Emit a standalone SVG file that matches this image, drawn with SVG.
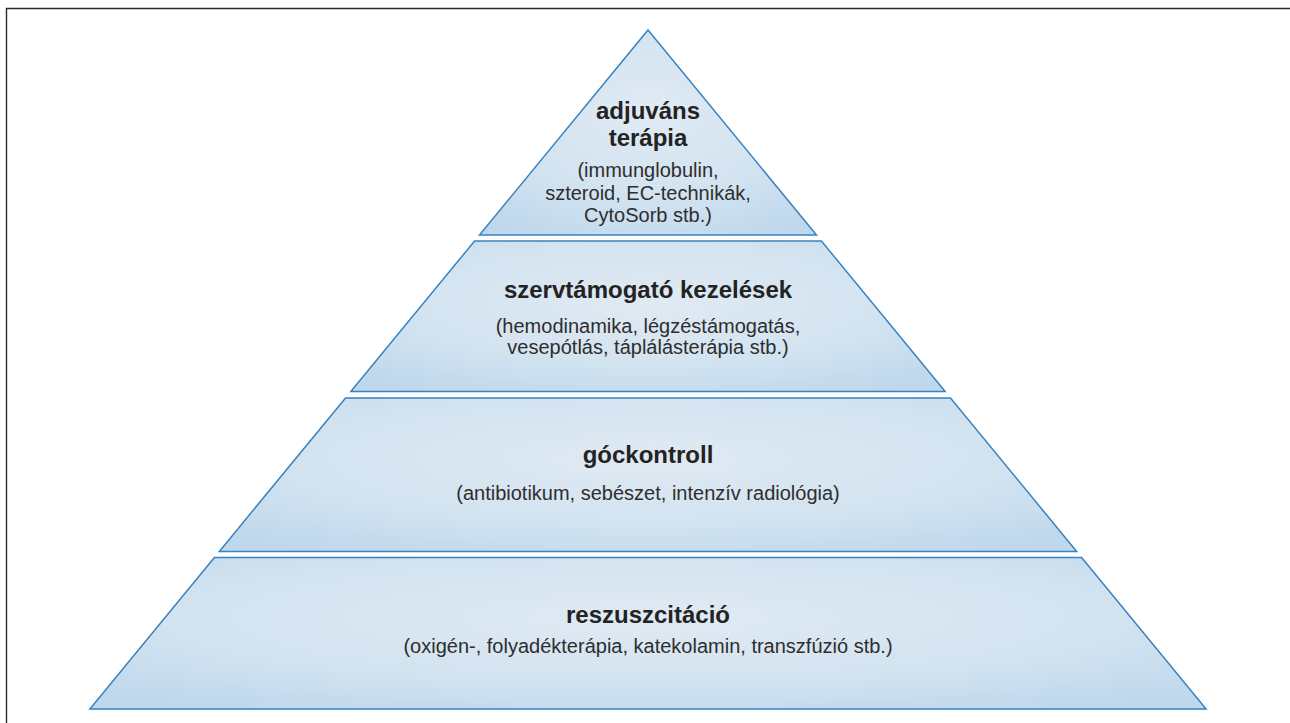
<svg xmlns="http://www.w3.org/2000/svg" width="1290" height="723" viewBox="0 0 1290 723">
  <defs>
    <radialGradient id="fillGrad" cx="0.5" cy="0.4" r="0.7">
      <stop offset="0" stop-color="#e0eaf3"/>
      <stop offset="0.6" stop-color="#d2e3f0"/>
      <stop offset="1" stop-color="#bfd8ed"/>
    </radialGradient>
  </defs>
  <style>
    .layer { fill: url(#fillGrad); stroke: #3a82bf; stroke-width: 1.5; stroke-linejoin: miter; }
    .title { font-family: "Liberation Sans", Arial, sans-serif; font-weight: bold; font-size: 24px; fill: #232323; text-anchor: middle; }
    .sub { font-family: "Liberation Sans", Arial, sans-serif; font-size: 20px; fill: #2e2e2e; text-anchor: middle; }
    .frame { fill: none; stroke: #2b2b2b; stroke-width: 1.4; }
  </style>
  <rect x="0" y="0" width="1290" height="723" fill="#ffffff"/>
  <path class="frame" d="M6.5,723 L6.5,8.5 L1290,8.5"/>

  <g id="layer-adjuvans">
    <polygon class="layer" points="648,30 816.5,235 479.5,235"/>
    <text class="title" x="648" y="119">adjuváns</text>
    <text class="title" x="648" y="146">terápia</text>
    <text class="sub" x="648" y="177">(immunglobulin,</text>
    <text class="sub" x="648" y="199.5">szteroid, EC-technikák,</text>
    <text class="sub" x="648" y="222">CytoSorb stb.)</text>
  </g>

  <g id="layer-szervtamogato">
    <polygon class="layer" points="474.6,241 821.4,241 945.2,391.5 350.8,391.5"/>
    <text class="title" x="648" y="298">szervtámogató kezelések</text>
    <text class="sub" x="648" y="333">(hemodinamika, légzéstámogatás,</text>
    <text class="sub" x="648" y="354">vesepótlás, táplálásterápia stb.)</text>
  </g>

  <g id="layer-gockontroll">
    <polygon class="layer" points="345.5,398 950.5,398 1076.7,551.5 219.3,551.5"/>
    <text class="title" x="648" y="463">góckontroll</text>
    <text class="sub" x="648" y="500">(antibiotikum, sebészet, intenzív radiológia)</text>
  </g>

  <g id="layer-reszuszcitacio">
    <polygon class="layer" points="214.4,557.5 1081.6,557.5 1206.1,709 89.9,709"/>
    <text class="title" x="648" y="623">reszuszcitáció</text>
    <text class="sub" x="648" y="653">(oxigén-, folyadékterápia, katekolamin, transzfúzió stb.)</text>
  </g>
</svg>
